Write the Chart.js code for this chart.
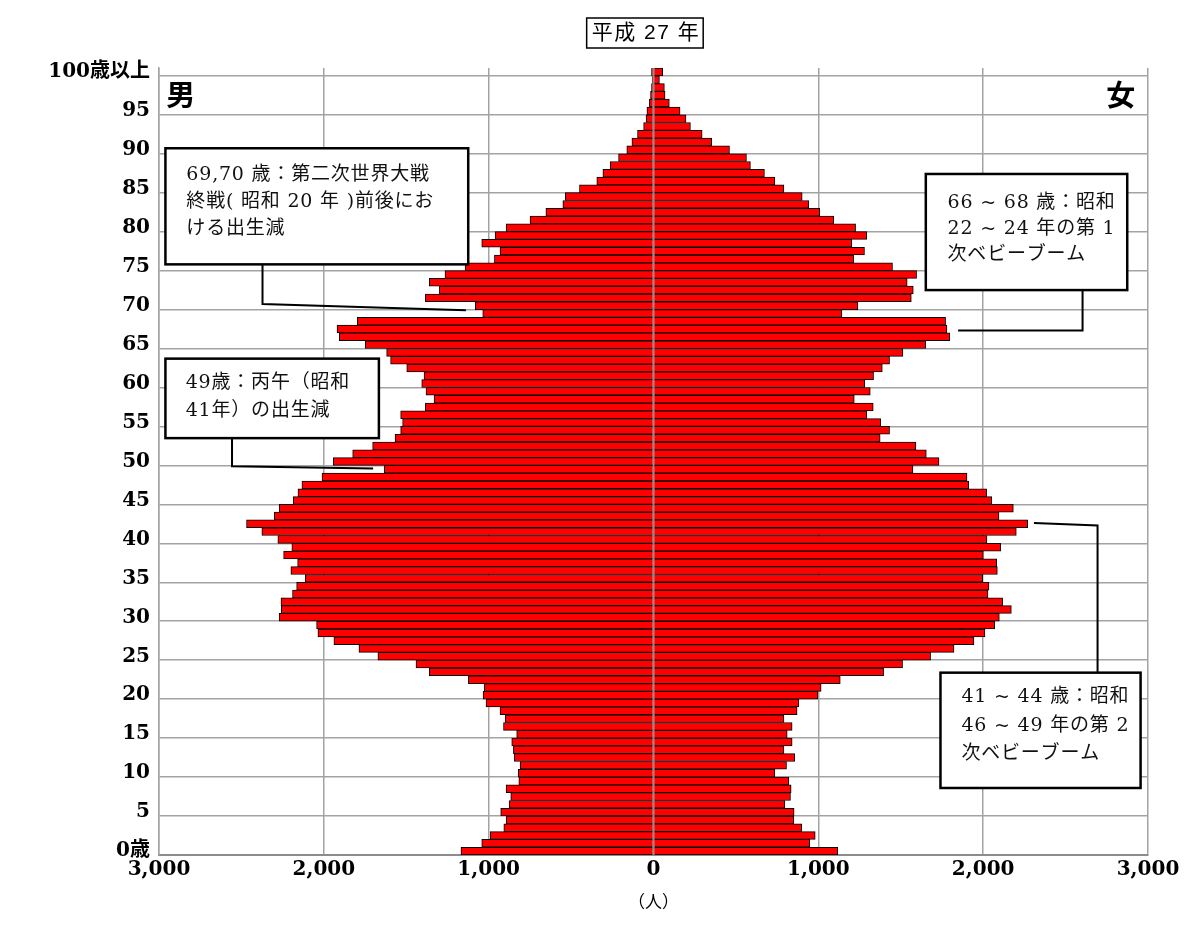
<!DOCTYPE html>
<html lang="ja">
<head>
<meta charset="utf-8">
<title>人口ピラミッド 平成27年</title>
<script src="https://cdn.jsdelivr.net/npm/chart.js@4.4.1/dist/chart.umd.min.js"></script>
<style>
  html, body { margin: 0; padding: 0; background: #fff; }
  #wrap { width: 1184px; height: 941px; }
</style>
</head>
<body>
<div id="wrap"><canvas id="pyramid" width="1184" height="941"></canvas></div>
<script>
// 年齢別人口（0歳〜100歳以上）、単位：人
var male = [
  1168, 1042, 991, 908, 894, 927, 876, 866, 894, 817,
  820, 809, 844, 850, 860, 830, 910, 900, 931, 1016,
  1034, 1026, 1123, 1360, 1441, 1672, 1787, 1939, 2036, 2044,
  2271, 2258, 2260, 2190, 2165, 2113, 2200, 2159, 2244, 2194,
  2279, 2376, 2469, 2301, 2271, 2186, 2157, 2133, 2011, 1633,
  1943, 1825, 1704, 1568, 1534, 1522, 1534, 1384, 1331, 1380,
  1406, 1392, 1497, 1595, 1619, 1749, 1906, 1920, 1797, 1036,
  1081, 1384, 1299, 1360, 1265, 1143, 965, 931, 1042, 961,
  894, 749, 653, 550, 535, 449, 344, 307, 263, 212,
  162, 131, 97, 60, 45, 40, 25, 18, 12, 8,
  12
];
var female = [
  1118, 948, 981, 900, 851, 853, 797, 831, 835, 821,
  736, 807, 857, 791, 841, 811, 841, 791, 871, 882,
  997, 1017, 1133, 1396, 1511, 1681, 1823, 1944, 2011, 2070,
  2098, 2171, 2118, 2029, 2035, 1997, 2086, 2082, 2001, 2106,
  2023, 2201, 2270, 2096, 2183, 2052, 2021, 1912, 1902, 1574,
  1732, 1655, 1592, 1375, 1432, 1378, 1294, 1333, 1218, 1315,
  1282, 1335, 1388, 1432, 1513, 1651, 1797, 1780, 1772, 1143,
  1240, 1564, 1576, 1539, 1596, 1450, 1214, 1280, 1203, 1294,
  1226, 1094, 1009, 942, 902, 791, 736, 673, 588, 564,
  461, 353, 295, 224, 197, 161, 96, 70, 66, 36,
  56
];

var ageLabels = [];
for (var i = 0; i <= 100; i++) {
  ageLabels.push(i === 0 ? "0歳" : i === 100 ? "100歳以上" : String(i));
}
var xMin = -3000, xMax = 3000, xStep = 1000;

var titleText = "平成 27 年";
var unitText = "（人）";

// 注記（x: 人数軸の値, y: 年齢軸の位置）
var notes = [
  {
    box: [-2961, 90.2, -1124, 75.3],
    lines: ["69,70 歳：第二次世界大戦", "終戦( 昭和 20 年 )前後にお", "ける出生減"],
    textX: -2834, textY: [86.7, 83.3, 79.8],
    leader: [[-2372, 75.3], [-2372, 70.2], [-1138, 69.4]]
  },
  {
    box: [1652, 86.9, 2874, 72.0],
    lines: ["66 ~ 68 歳：昭和", "22 ~ 24 年の第 1", "次ベビーブーム"],
    textX: 1784, textY: [83.2, 79.8, 76.5],
    leader: [[2603, 72.0], [2603, 66.8], [1848, 66.8]]
  },
  {
    box: [-2961, 63.2, -1666, 53.0],
    lines: ["49歳：丙午（昭和", "41年）の出生減"],
    textX: -2838, textY: [60.1, 56.5],
    leader: [[-2557, 53.0], [-2557, 49.4], [-1701, 49.1]]
  },
  {
    box: [1741, 22.9, 2955, 8.1],
    lines: ["41 ~ 44 歳：昭和", "46 ~ 49 年の第 2", "次ベビーブーム"],
    textX: 1868, textY: [19.8, 16.1, 12.4],
    leader: [[2694, 22.9], [2694, 41.8], [2308, 42.1]]
  }
];
var sexLabels = [
  { text: "男", x: -2868, y: 97.0 },
  { text: "女", x: 2835, y: 97.1 }
];

var serifCJK = '"DejaVu Serif", "Noto Sans CJK JP", serif';

var notePlugin = {
  id: "pyramidNotes",
  afterDatasetsDraw: function (chart) {
    var c = chart.ctx;
    var sx = chart.scales.x;
    var sy = chart.scales.y;
    var area = chart.chartArea;

    c.save();
    // 中央の縦軸線（棒の上）
    var zx = sx.getPixelForValue(0);
    c.strokeStyle = "#8c8c8c";
    c.lineWidth = 1.5;
    c.beginPath();
    c.moveTo(zx, area.top);
    c.lineTo(zx, area.bottom);
    c.stroke();

    // 男・女
    c.fillStyle = "#000";
    c.font = 'bold 29px "Noto Sans CJK JP"';
    c.textAlign = "center";
    c.textBaseline = "middle";
    sexLabels.forEach(function (s) {
      c.fillText(s.text, sx.getPixelForValue(s.x), sy.getPixelForValue(s.y));
    });

    // 注記
    notes.forEach(function (n) {
      c.strokeStyle = "#000";
      c.lineWidth = 2;
      c.beginPath();
      n.leader.forEach(function (p, k) {
        var px = sx.getPixelForValue(p[0]);
        var py = sy.getPixelForValue(p[1]);
        if (k === 0) c.moveTo(px, py);
        else c.lineTo(px, py);
      });
      c.stroke();

      var x1 = sx.getPixelForValue(n.box[0]);
      var y1 = sy.getPixelForValue(n.box[1]);
      var x2 = sx.getPixelForValue(n.box[2]);
      var y2 = sy.getPixelForValue(n.box[3]);
      c.fillStyle = "#fff";
      c.fillRect(x1, y1, x2 - x1, y2 - y1);
      c.lineWidth = 2.5;
      c.strokeRect(x1, y1, x2 - x1, y2 - y1);

      c.fillStyle = "#111";
      c.font = "19px " + serifCJK;
      c.textAlign = "left";
      c.textBaseline = "middle";
      if ("letterSpacing" in c) c.letterSpacing = "0.8px";
      n.lines.forEach(function (t, k) {
        c.fillText(t, sx.getPixelForValue(n.textX), sy.getPixelForValue(n.textY[k]));
      });
      if ("letterSpacing" in c) c.letterSpacing = "0px";
    });

    // タイトル
    c.font = '21px "Liberation Sans", "Noto Sans CJK JP"';
    c.textAlign = "center";
    c.textBaseline = "middle";
    c.fillStyle = "#000";
    if ("letterSpacing" in c) c.letterSpacing = "1.5px";
    var tx = sx.getPixelForValue(-52);
    var ty = area.top - 35;
    var tw = c.measureText(titleText).width;
    c.fillText(titleText, tx + 1, ty);
    if ("letterSpacing" in c) c.letterSpacing = "0px";
    c.lineWidth = 1.5;
    c.strokeStyle = "#000";
    c.strokeRect(tx - tw / 2 - 4, ty - 15, tw + 8, 30);
    c.restore();
  }
};

function barSet(label, values) {
  return {
    label: label,
    data: values,
    backgroundColor: "#ff0000",
    borderColor: "#000000",
    borderWidth: 1,
    categoryPercentage: 1.0,
    barPercentage: 1.0
  };
}

new Chart(document.getElementById("pyramid"), {
  type: "bar",
  data: {
    labels: ageLabels,
    datasets: [
      barSet("男", male.map(function (v) { return -v; })),
      barSet("女", female)
    ]
  },
  options: {
    indexAxis: "y",
    responsive: false,
    animation: false,
    layout: { padding: { top: 68, right: 36, left: 0, bottom: 0 } },
    plugins: {
      legend: { display: false },
      tooltip: { enabled: false },
      title: { display: false }
    },
    scales: {
      x: {
        type: "linear",
        min: xMin,
        max: xMax,
        stacked: true,
        ticks: {
          stepSize: xStep,
          maxRotation: 0,
          padding: 3,
          color: "#000",
          font: { family: serifCJK, size: 20, weight: "bold" },
          callback: function (v) {
            return Math.abs(v).toLocaleString("en-US");
          }
        },
        grid: { color: "#a3a3a3", lineWidth: 1.5, drawTicks: false },
        border: { display: true, color: "#8c8c8c", width: 2 },
        title: {
          display: true,
          text: unitText,
          color: "#000",
          font: { family: serifCJK, size: 17 },
          padding: { top: 0, bottom: 27 }
        },
        afterFit: function (s) { s.height = 86; }
      },
      y: {
        type: "category",
        reverse: true,
        stacked: true,
        ticks: {
          autoSkip: false,
          padding: 9,
          color: "#000",
          font: { family: serifCJK, size: 20, weight: "bold" },
          callback: function (v, idx) {
            return idx % 5 === 0 ? ageLabels[idx] : "";
          }
        },
        grid: {
          offset: true,
          drawTicks: false,
          lineWidth: 1.5,
          color: function (ctx) {
            return ctx.index > 0 && ctx.index % 5 === 0 ? "#a3a3a3" : "rgba(0,0,0,0)";
          }
        },
        border: { display: true, color: "#a3a3a3", width: 1.5 },
        afterFit: function (s) { s.width = 159; }
      }
    }
  },
  plugins: [notePlugin]
});
</script>
</body>
</html>
